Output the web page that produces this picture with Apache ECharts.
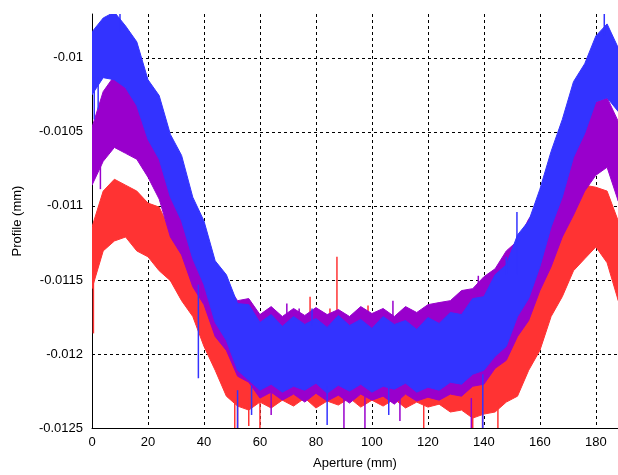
<!DOCTYPE html>
<html>
<head>
<meta charset="utf-8">
<script src="https://cdn.jsdelivr.net/npm/echarts@6/dist/echarts.min.js"></script>
<style>
html, body { margin: 0; padding: 0; background: #fff; }
#main { width: 618px; height: 475px; }
</style>
</head>
<body>
<div id="main"></div>
<script>
// aperture positions (mm) where the band edges were read
var aperture = [0, 4, 8, 12, 16, 20, 24, 28, 32, 36, 40, 44, 48, 52, 56, 60, 64, 68, 72, 76, 80, 84, 88, 92,
    96, 100, 104, 108, 112, 116, 120, 124, 128, 132, 136, 140, 144, 148, 152, 156, 160, 164, 168, 172, 176, 180, 184, 188];

// upper / lower edge of each noisy profile (mm)
var redTop = [-0.011142, -0.010900, -0.010820, -0.010860, -0.010900, -0.010981, -0.011008, -0.011169, -0.011263, -0.011438,
    -0.011546, -0.011720, -0.011774, -0.011882, -0.011868, -0.011922, -0.011868, -0.011929, -0.011882, -0.011935,
    -0.011875, -0.011922, -0.011868, -0.011935, -0.011882, -0.011922, -0.011888, -0.011942, -0.011868, -0.011929,
    -0.011895, -0.011935, -0.011909, -0.011929, -0.011882, -0.011868, -0.011801, -0.011761, -0.011640, -0.011546,
    -0.011357, -0.011237, -0.011075, -0.010968, -0.010860, -0.010874, -0.010900, -0.011102];
var redBottom = [-0.011559, -0.011304, -0.011237, -0.011210, -0.011304, -0.011344, -0.011438, -0.011505, -0.011640, -0.011747,
    -0.011949, -0.012110, -0.012285, -0.012352, -0.012379, -0.012325, -0.012365, -0.012312, -0.012352, -0.012298,
    -0.012365, -0.012318, -0.012345, -0.012298, -0.012359, -0.012312, -0.012352, -0.012305, -0.012365, -0.012325,
    -0.012359, -0.012339, -0.012392, -0.012379, -0.012433, -0.012406, -0.012392, -0.012325, -0.012285, -0.012110,
    -0.011976, -0.011747, -0.011613, -0.011438, -0.011357, -0.011277, -0.011384, -0.011640];

var purpleTop = [-0.010470, -0.010228, -0.010121, -0.010202, -0.010269, -0.010417, -0.010524, -0.010780, -0.010927, -0.011183,
    -0.011290, -0.011492, -0.011532, -0.011640, -0.011626, -0.011734, -0.011680, -0.011747, -0.011693, -0.011740,
    -0.011687, -0.011734, -0.011700, -0.011747, -0.011680, -0.011727, -0.011693, -0.011747, -0.011680, -0.011720,
    -0.011667, -0.011653, -0.011640, -0.011572, -0.011559, -0.011478, -0.011425, -0.011304, -0.011237, -0.011089,
    -0.010995, -0.010833, -0.010699, -0.010524, -0.010430, -0.010296, -0.010269, -0.010430];
var purpleBottom = [-0.010860, -0.010699, -0.010605, -0.010645, -0.010685, -0.010806, -0.010954, -0.011210, -0.011331, -0.011546,
    -0.011667, -0.011882, -0.011976, -0.012150, -0.012191, -0.012298, -0.012258, -0.012312, -0.012271, -0.012325,
    -0.012265, -0.012318, -0.012278, -0.012332, -0.012271, -0.012312, -0.012285, -0.012339, -0.012271, -0.012318,
    -0.012292, -0.012312, -0.012271, -0.012285, -0.012218, -0.012204, -0.012097, -0.012043, -0.011882, -0.011774,
    -0.011572, -0.011411, -0.011210, -0.011062, -0.010900, -0.010793, -0.010739, -0.010968];

var blueTop = [-0.009825, -0.009731, -0.009691, -0.009785, -0.009892, -0.010148, -0.010255, -0.010517, -0.010659, -0.010941,
    -0.011102, -0.011371, -0.011465, -0.011660, -0.011667, -0.011788, -0.011734, -0.011814, -0.011747, -0.011801,
    -0.011761, -0.011821, -0.011740, -0.011808, -0.011767, -0.011828, -0.011747, -0.011801, -0.011774, -0.011835,
    -0.011754, -0.011794, -0.011720, -0.011734, -0.011626, -0.011613, -0.011465, -0.011398, -0.011196, -0.011102,
    -0.010887, -0.010632, -0.010417, -0.010161, -0.010040, -0.009852, -0.009771, -0.009933];
var blueBottom = [-0.010249, -0.010134, -0.010148, -0.010202, -0.010323, -0.010551, -0.010685, -0.010941, -0.011102, -0.011357,
    -0.011532, -0.011788, -0.011909, -0.012110, -0.012177, -0.012245, -0.012204, -0.012258, -0.012218, -0.012245,
    -0.012197, -0.012265, -0.012211, -0.012251, -0.012204, -0.012258, -0.012218, -0.012238, -0.012197, -0.012258,
    -0.012224, -0.012245, -0.012191, -0.012204, -0.012137, -0.012110, -0.012016, -0.011949, -0.011747, -0.011626,
    -0.011411, -0.011142, -0.010941, -0.010672, -0.010511, -0.010296, -0.010269, -0.010363];

// single outliers: [aperture, from, to]
var redSpikes = [[87.5, -0.011895, -0.011344], [0.5, -0.011425, -0.011861], [52, -0.012298, -0.0125],
    [56, -0.012298, -0.012486], [118.5, -0.012339, -0.0125], [136, -0.012365, -0.0125], [139.5, -0.012365, -0.0125],
    [85, -0.011935, -0.011693], [98.6, -0.011935, -0.011673], [77.9, -0.011935, -0.011613], [60, -0.012312, -0.0125],
    [51, -0.012298, -0.0125], [112, -0.011935, -0.011720], [145, -0.012325, -0.0125], [128.5, -0.011929, -0.011734],
    [66, -0.011935, -0.011761]];
var purpleSpikes = [[39.5, -0.011626, -0.011169], [90, -0.012298, -0.0125], [135.5, -0.012298, -0.0125],
    [138, -0.011626, -0.011472], [43.5, -0.011720, -0.011559], [56, -0.011801, -0.011653], [69.6, -0.011801, -0.011660],
    [74, -0.011801, -0.011693], [107.5, -0.011801, -0.011640], [121, -0.011801, -0.011720], [124.5, -0.011801, -0.011653],
    [127, -0.011801, -0.011707], [97.5, -0.012258, -0.0125], [110, -0.012258, -0.012453], [3, -0.010685, -0.010887],
    [10, -0.010202, -0.010094], [64, -0.012258, -0.012412]];
var blueSpikes = [[52, -0.012245, -0.0125], [139.6, -0.012137, -0.0125], [151.8, -0.011465, -0.011042],
    [38, -0.011532, -0.012164], [0.8, -0.010134, -0.010417], [2.2, -0.010134, -0.010349], [57, -0.012211, -0.012412],
    [84, -0.012218, -0.012479], [106, -0.012218, -0.012412], [78.6, -0.011808, -0.011693], [148, -0.011465, -0.011344],
    [183, -0.009852, -0.009704], [10, -0.009825, -0.009704]];

var colors = { red: '#ff3333', purple: '#9900cc', blue: '#3333ff' };

function clipRect(params) {
    var cs = params.coordSys;
    return { type: 'rect', shape: { x: cs.x, y: cs.y, width: cs.width, height: cs.height } };
}

// whole band is drawn once, as one polygon through the axes' scales
function bandSeries(top, bottom, color) {
    var data = aperture.map(function (x, i) { return [x, top[i], bottom[i]]; });
    return {
        type: 'custom', data: data, silent: true,
        encode: { x: 0, y: [1, 2] },
        renderItem: function (params, api) {
            if (params.dataIndexInside !== 0) return null;
            var n = params.dataInsideLength, upper = [], lower = [];
            for (var j = 0; j < n; j++) {
                upper.push(api.coord([api.value(0, j), api.value(1, j)]));
                lower.unshift(api.coord([api.value(0, j), api.value(2, j)]));
            }
            return {
                type: 'polygon', clipPath: clipRect(params),
                shape: { points: upper.concat(lower) },
                style: { fill: color, stroke: color, lineWidth: 1 }
            };
        }
    };
}

function spikeSeries(data, color) {
    return {
        type: 'custom', data: data, silent: true,
        encode: { x: 0, y: [1, 2] },
        renderItem: function (params, api) {
            var a = api.coord([api.value(0), api.value(1)]);
            var b = api.coord([api.value(0), api.value(2)]);
            return { type: 'line', clipPath: clipRect(params),
                shape: { x1: a[0], y1: a[1], x2: b[0], y2: b[1] },
                style: { stroke: color, lineWidth: 1.5 } };
        }
    };
}

var series = [
    bandSeries(redTop, redBottom, colors.red), spikeSeries(redSpikes, colors.red),
    bandSeries(purpleTop, purpleBottom, colors.purple), spikeSeries(purpleSpikes, colors.purple),
    bandSeries(blueTop, blueBottom, colors.blue), spikeSeries(blueSpikes, colors.blue)
];

var myChart = echarts.init(document.getElementById('main'));
var font = 'Liberation Sans, Arial, sans-serif';
myChart.setOption({
    animation: false,
    grid: { left: 92, right: 0, top: 14, bottom: 45, containLabel: false },
    xAxis: {
        type: 'value', min: 0, max: 187.9, interval: 20,
        name: 'Aperture (mm)', nameLocation: 'middle', nameGap: 29,
        nameTextStyle: { color: '#000', fontSize: 13, fontFamily: font },
        axisLine: { lineStyle: { color: '#000', width: 1 } },
        axisTick: { show: false },
        axisLabel: { color: '#000', fontSize: 13, fontFamily: font, margin: 8, showMaxLabel: false },
        splitLine: { show: true, showMinLine: false, showMaxLine: false,
            lineStyle: { color: '#000', type: [3, 3], width: 1 } }
    },
    yAxis: {
        type: 'value', min: -0.0125, max: -0.009704, interval: 0.0005,
        name: 'Profile (mm)', nameLocation: 'middle', nameGap: 68,
        nameTextStyle: { color: '#000', fontSize: 13, fontFamily: font },
        axisLine: { show: true, lineStyle: { color: '#000', width: 1 } },
        axisTick: { show: false },
        axisLabel: { color: '#000', fontSize: 13, fontFamily: font, margin: 9, showMaxLabel: false },
        splitLine: { show: true, showMinLine: false, showMaxLine: false,
            lineStyle: { color: '#000', type: [3, 3], width: 1 } }
    },
    series: series
});
</script>
</body>
</html>
